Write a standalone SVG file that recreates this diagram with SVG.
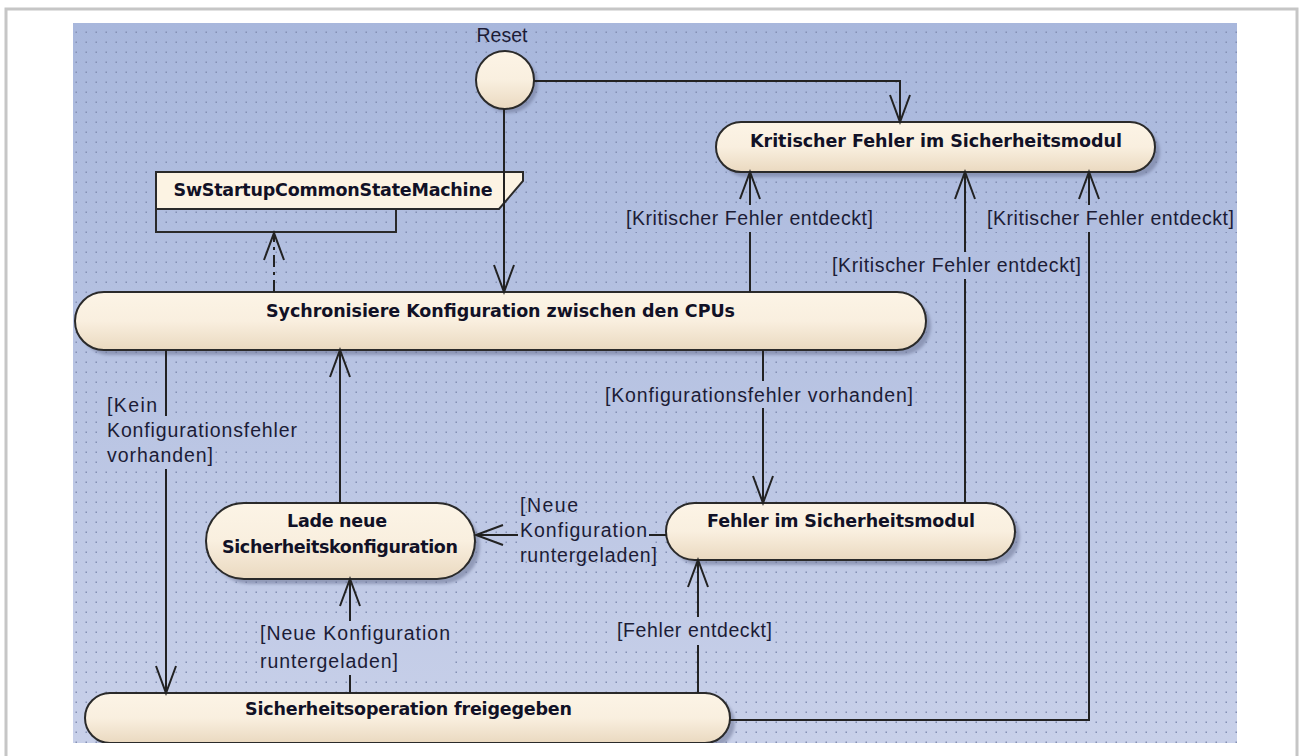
<svg xmlns="http://www.w3.org/2000/svg" width="1304" height="756" viewBox="0 0 1304 756">
  <defs>
    <linearGradient id="bg" gradientUnits="userSpaceOnUse" x1="0" y1="23" x2="0" y2="743">
      <stop offset="0" stop-color="#a8b7dc"/>
      <stop offset="1" stop-color="#c8d0e9"/>
    </linearGradient>
    <linearGradient id="cream" x1="0" y1="0" x2="0" y2="1">
      <stop offset="0" stop-color="#fcf4e6"/>
      <stop offset="0.5" stop-color="#f9efdf"/>
      <stop offset="1" stop-color="#ead9c0"/>
    </linearGradient>
    <pattern id="dots" width="10" height="10" patternUnits="userSpaceOnUse">
      <rect x="5.5" y="1.5" width="1.5" height="1.5" fill="#8490b4"/>
    </pattern>
    <filter id="shadow" x="-10%" y="-30%" width="130%" height="180%">
      <feGaussianBlur stdDeviation="1.5"/>
    </filter>
    <clipPath id="canvas">
      <rect x="73" y="23" width="1164" height="720"/>
    </clipPath>
    <marker id="arrow" viewBox="-30 -13 34 26" refX="0" refY="0" markerWidth="34" markerHeight="26" markerUnits="userSpaceOnUse" orient="auto">
      <path d="M-27,-10 L0,0 L-27,10" fill="none" stroke="#222" stroke-width="2" stroke-dasharray="none"/>
    </marker>
    <style>
      .state { fill: url(#cream); stroke: #2a2a2a; stroke-width: 2; }
      .shade { fill: #6c7494; opacity: 0.55; filter: url(#shadow); }
      .title { font-family: "DejaVu Sans", "Liberation Sans", sans-serif; font-weight: bold; font-size: 17.5px; fill: #111126; text-anchor: middle; }
      .label { font-family: "Liberation Sans", Arial, sans-serif; font-size: 19.5px; fill: #1c1c36; }
      .edge { fill: none; stroke: #222; stroke-width: 2; marker-end: url(#arrow); }
      .dashed { stroke-dasharray: 12 5 3 5; }
      .lbg { fill: url(#bg); }
    </style>
  </defs>

  <!-- page frame -->
  <rect x="6" y="9" width="1291" height="770" fill="#ffffff" stroke="#c6c6c6" stroke-width="3"/>

  <g clip-path="url(#canvas)">
    <!-- diagram canvas with dotted grid -->
    <rect x="73" y="23" width="1164" height="720" fill="url(#bg)"/>
    <rect x="73" y="23" width="1164" height="720" fill="url(#dots)"/>

    <!-- initial pseudo-state -->
    <g id="reset">
      <circle cx="509" cy="84" r="29" class="shade"/>
      <circle cx="505" cy="80" r="29" class="state"/>
      <text x="502" y="42" class="label" text-anchor="middle" textLength="51">Reset</text>
    </g>

    <g id="kritischer-fehler">
      <rect x="721" y="127" width="439" height="50" rx="25" class="shade"/>
      <rect x="716" y="122" width="439" height="50" rx="25" class="state"/>
      <text x="936" y="147" class="title" textLength="372">Kritischer Fehler im Sicherheitsmodul</text>
    </g>

    <g id="common-state-machine">
      <rect x="156" y="209" width="240" height="23" fill="none" stroke="#2a2a2a" stroke-width="2"/>
      <polygon points="156,172 523,172 523,181 499,209 156,209" fill="#fcf3e3" stroke="#2a2a2a" stroke-width="2"/>
      <text x="333" y="196" class="title" textLength="319">SwStartupCommonStateMachine</text>
    </g>

    <g id="synchronisiere">
      <rect x="80" y="297" width="851" height="58" rx="29" class="shade"/>
      <rect x="75" y="292" width="851" height="58" rx="29" class="state"/>
      <text x="500.5" y="317" class="title" textLength="469">Sychronisiere Konfiguration zwischen den CPUs</text>
    </g>

    <g id="lade-konfiguration">
      <rect x="211" y="508" width="269" height="76" rx="38" class="shade"/>
      <rect x="206" y="503" width="269" height="76" rx="38" class="state"/>
      <text x="337" y="527" class="title" textLength="100">Lade neue</text>
      <text x="340" y="553" class="title" textLength="236">Sicherheitskonfiguration</text>
    </g>

    <g id="fehler">
      <rect x="671" y="508" width="349" height="57" rx="28.5" class="shade"/>
      <rect x="666" y="503" width="349" height="57" rx="28.5" class="state"/>
      <text x="841" y="527" class="title" textLength="268">Fehler im Sicherheitsmodul</text>
    </g>

    <g id="sicherheitsoperation">
      <rect x="90" y="698" width="645" height="50" rx="25" class="shade"/>
      <rect x="85" y="693" width="645" height="50" rx="25" class="state"/>
      <text x="408.5" y="715" class="title" textLength="327">Sicherheitsoperation freigegeben</text>
    </g>

    <!-- transitions -->
    <g id="connectors">
      <path class="edge" d="M534,81 H900 V122"/>
      <path class="edge" d="M504,109 V292"/>
      <path class="edge dashed" d="M274,292 V233"/>
      <path class="edge" d="M750,292 V172"/>
      <path class="edge" d="M965,503 V172"/>
      <path class="edge" d="M730,720 H1089 V172"/>
      <path class="edge" d="M763,350 V503"/>
      <path class="edge" d="M166,350 V693"/>
      <path class="edge" d="M340,503 V350"/>
      <path class="edge" d="M666,535 H476"/>
      <path class="edge" d="M350,693 V579"/>
      <path class="edge" d="M698,693 V560"/>
    </g>

    <!-- guard labels -->
    <g id="guards">
      <rect class="lbg" x="624" y="205" width="252" height="27"/>
      <text class="label" x="626" y="225" textLength="247">[Kritischer Fehler entdeckt]</text>

      <rect class="lbg" x="830" y="252" width="254" height="27"/>
      <text class="label" x="832" y="272" textLength="249">[Kritischer Fehler entdeckt]</text>

      <rect class="lbg" x="985" y="205" width="252" height="27"/>
      <text class="label" x="987" y="225" textLength="247">[Kritischer Fehler entdeckt]</text>

      <rect class="lbg" x="603" y="381" width="312" height="27"/>
      <text class="label" x="605" y="402" textLength="308">[Konfigurationsfehler vorhanden]</text>

      <rect class="lbg" x="105" y="391" width="54" height="25"/>
      <rect class="lbg" x="105" y="416" width="194" height="27"/>
      <rect class="lbg" x="105" y="442" width="110" height="27"/>
      <text class="label" x="107" y="412" textLength="50">[Kein</text>
      <text class="label" x="107" y="437" textLength="190">Konfigurationsfehler</text>
      <text class="label" x="107" y="462" textLength="106">vorhanden]</text>

      <rect class="lbg" x="518" y="516" width="131" height="27"/>
      <text class="label" x="520" y="512" textLength="58">[Neue</text>
      <text class="label" x="520" y="537" textLength="127">Konfiguration</text>
      <text class="label" x="520" y="562" textLength="137">runtergeladen]</text>

      <rect class="lbg" x="258" y="621" width="194" height="54"/>
      <text class="label" x="260" y="640" textLength="190">[Neue Konfiguration</text>
      <text class="label" x="260" y="668" textLength="138">runtergeladen]</text>

      <rect class="lbg" x="615" y="617" width="159" height="28"/>
      <text class="label" x="617" y="637" textLength="155">[Fehler entdeckt]</text>
    </g>
  </g>
</svg>
